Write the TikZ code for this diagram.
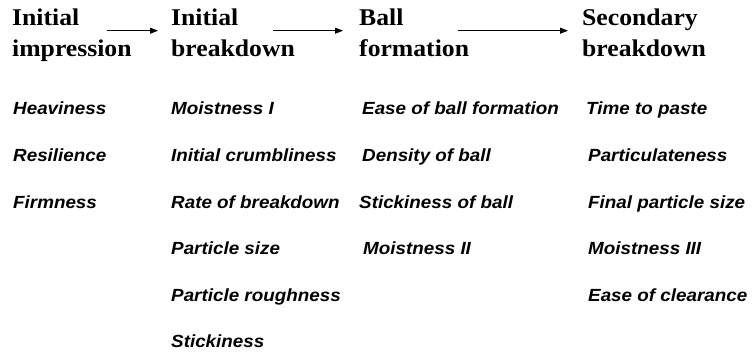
\documentclass[tikz,border=0pt]{standalone}
\usepackage{fontspec}
\usetikzlibrary{arrows.meta}
\newfontfamily\headfont[FakeStretch=1.07]{Liberation Serif}
\newfontfamily\itemfont[FakeStretch=1.07]{Liberation Sans}
\tikzset{
  head/.style={anchor=base west, inner sep=0pt,
    font=\headfont\bfseries\fontsize{24}{28}\selectfont},
  item/.style={anchor=base west, inner sep=0pt,
    font=\itemfont\bfseries\itshape\fontsize{17.6}{20}\selectfont},
  flow/.style={line width=0.8pt,
    -{Triangle[length=8pt,width=6pt]}}
}
\begin{document}
\begin{tikzpicture}[x=1pt,y=-1pt]
  \useasboundingbox[fill=white] (0,0) rectangle (753,352);

  % stage headings (two lines each)
  \node[head] (h1a) at (12,26) {Initial};
  \node[head] (h1b) at (12,57) {impression};
  \node[head] (h2a) at (171,26) {Initial};
  \node[head] (h2b) at (171,57) {breakdown};
  \node[head] (h3a) at (359,26) {Ball};
  \node[head] (h3b) at (359,57) {formation};
  \node[head] (h4a) at (582,26) {Secondary};
  \node[head] (h4b) at (582,57) {breakdown};

  % arrows linking the stages
  \coordinate (a1s) at (107,30.7);
  \coordinate (a1e) at (158,30.7);
  \coordinate (a2s) at (273,30.7);
  \coordinate (a2e) at (343,30.7);
  \coordinate (a3s) at (458,30.7);
  \coordinate (a3e) at (568,30.7);
  \draw[flow] (a1s) -- (a1e);
  \draw[flow] (a2s) -- (a2e);
  \draw[flow] (a3s) -- (a3e);

  % initial impression
  \node[item] (c1r1) at (13,115) {Heaviness};
  \node[item] (c1r2) at (13,161.6) {Resilience};
  \node[item] (c1r3) at (13,208.2) {Firmness};

  % initial breakdown
  \node[item] (c2r1) at (171,115) {Moistness I};
  \node[item] (c2r2) at (171,161.6) {Initial crumbliness};
  \node[item] (c2r3) at (171,208.2) {Rate of breakdown};
  \node[item] (c2r4) at (171,254.8) {Particle size};
  \node[item] (c2r5) at (171,301.4) {Particle roughness};
  \node[item] (c2r6) at (171,348) {Stickiness};

  % ball formation
  \node[item] (c3r1) at (362,115) {Ease of ball formation};
  \node[item] (c3r2) at (362,161.6) {Density of ball};
  \node[item] (c3r3) at (359,208.2) {Stickiness of ball};
  \node[item] (c3r4) at (363,254.8) {Moistness II};

  % secondary breakdown
  \node[item] (c4r1) at (586,115) {Time to paste};
  \node[item] (c4r2) at (588,161.6) {Particulateness};
  \node[item] (c4r3) at (588,208.2) {Final particle size};
  \node[item] (c4r4) at (588,254.8) {Moistness III};
  \node[item] (c4r5) at (588,301.4) {Ease of clearance};
\end{tikzpicture}
\end{document}
